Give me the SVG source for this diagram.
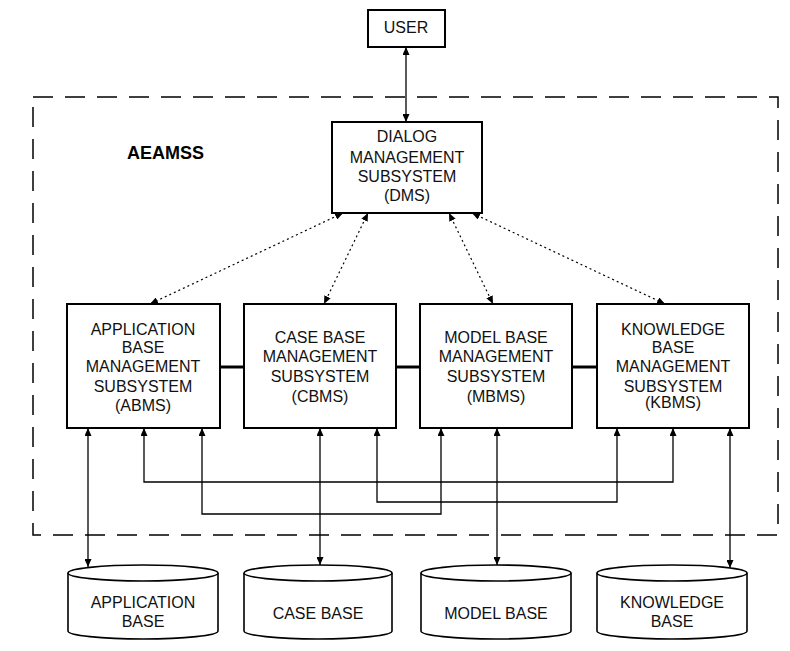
<svg xmlns="http://www.w3.org/2000/svg" width="790" height="651" viewBox="0 0 790 651">
<style>
.box{fill:#fff;stroke:#000;stroke-width:2}
.t{font-family:"Liberation Sans",Arial,sans-serif;font-size:16px;fill:#111;text-anchor:middle}
.title{font-family:"Liberation Sans",Arial,sans-serif;font-size:18px;font-weight:bold;fill:#000}
.ln{fill:none;stroke:#000;stroke-width:1.3}
.dot{fill:none;stroke:#000;stroke-width:1.2;stroke-dasharray:2,3}
.thick{fill:none;stroke:#000;stroke-width:3}
.bound{fill:none;stroke:#000;stroke-width:1.5;stroke-dasharray:20,12}
.cyl{fill:#fff;stroke:#000;stroke-width:1.6}
</style>
<defs>
<marker id="arr" viewBox="0 0 8 7" refX="8" refY="3.5" markerWidth="8" markerHeight="7" markerUnits="userSpaceOnUse" orient="auto-start-reverse">
<path d="M0,0 L8,3.5 L0,7 z" fill="#000"/>
</marker>
</defs>
<rect x="0" y="0" width="790" height="651" fill="#fff"/>
<rect class="bound" x="33" y="97" width="745" height="438"/>
<text class="title" x="127" y="159">AEAMSS</text>

<g id="connectors">
<line class="ln" x1="406" y1="47" x2="406" y2="122" marker-start="url(#arr)" marker-end="url(#arr)"/>
<line class="dot" x1="343" y1="213" x2="150" y2="304" marker-start="url(#arr)" marker-end="url(#arr)"/>
<line class="dot" x1="368" y1="213" x2="324" y2="304" marker-start="url(#arr)" marker-end="url(#arr)"/>
<line class="dot" x1="449" y1="213" x2="493" y2="304" marker-start="url(#arr)" marker-end="url(#arr)"/>
<line class="dot" x1="472" y1="213" x2="665" y2="304" marker-start="url(#arr)" marker-end="url(#arr)"/>
<line class="thick" x1="220" y1="367" x2="244" y2="367"/>
<line class="thick" x1="396" y1="367" x2="420" y2="367"/>
<line class="thick" x1="572" y1="367" x2="597" y2="367"/>
<line class="ln" x1="88" y1="428" x2="88" y2="567" marker-start="url(#arr)" marker-end="url(#arr)"/>
<line class="ln" x1="320" y1="428" x2="320" y2="565" marker-start="url(#arr)" marker-end="url(#arr)"/>
<line class="ln" x1="497" y1="428" x2="497" y2="565" marker-start="url(#arr)" marker-end="url(#arr)"/>
<line class="ln" x1="730" y1="428" x2="730" y2="568" marker-start="url(#arr)" marker-end="url(#arr)"/>
<path class="ln" d="M144,428 V482 H673 V428" marker-start="url(#arr)" marker-end="url(#arr)"/>
<path class="ln" d="M377,428 V502 H617 V428" marker-start="url(#arr)" marker-end="url(#arr)"/>
<path class="ln" d="M202,428 V514 H441 V428" marker-start="url(#arr)" marker-end="url(#arr)"/>
</g>

<g id="user">
<rect class="box" x="368" y="10" width="77" height="37"/>
<text class="t" x="406" y="33">USER</text>
</g>
<g id="dms">
<rect class="box" x="332" y="122" width="150" height="91"/>
<text class="t" x="407" y="142">DIALOG</text>
<text class="t" x="407" y="163">MANAGEMENT</text>
<text class="t" x="407" y="182">SUBSYSTEM</text>
<text class="t" x="407" y="201">(DMS)</text>
</g>
<g id="abms">
<rect class="box" x="67" y="304" width="153" height="124"/>
<text class="t" x="143" y="335">APPLICATION</text>
<text class="t" x="143" y="353">BASE</text>
<text class="t" x="143" y="372">MANAGEMENT</text>
<text class="t" x="143" y="392">SUBSYSTEM</text>
<text class="t" x="143" y="411">(ABMS)</text>
</g>
<g id="cbms">
<rect class="box" x="244" y="304" width="152" height="124"/>
<text class="t" x="320" y="343">CASE BASE</text>
<text class="t" x="320" y="362">MANAGEMENT</text>
<text class="t" x="320" y="382">SUBSYSTEM</text>
<text class="t" x="320" y="402">(CBMS)</text>
</g>
<g id="mbms">
<rect class="box" x="420" y="304" width="152" height="124"/>
<text class="t" x="496" y="343">MODEL BASE</text>
<text class="t" x="496" y="362">MANAGEMENT</text>
<text class="t" x="496" y="382">SUBSYSTEM</text>
<text class="t" x="496" y="402">(MBMS)</text>
</g>
<g id="kbms">
<rect class="box" x="597" y="304" width="152" height="124"/>
<text class="t" x="673" y="335">KNOWLEDGE</text>
<text class="t" x="673" y="353">BASE</text>
<text class="t" x="673" y="372">MANAGEMENT</text>
<text class="t" x="673" y="392">SUBSYSTEM</text>
<text class="t" x="673" y="408">(KBMS)</text>
</g>

<g id="appbase">
<path class="cyl" d="M68,573 V631 A75,8 0 0 0 218,631 V573"/>
<ellipse class="cyl" cx="143" cy="573" rx="75" ry="8"/>
<text class="t" x="143" y="608">APPLICATION</text>
<text class="t" x="143" y="627">BASE</text>
</g>
<g id="casebase">
<path class="cyl" d="M244,573 V631 A74,8 0 0 0 392,631 V573"/>
<ellipse class="cyl" cx="318" cy="573" rx="74" ry="8"/>
<text class="t" x="318" y="619">CASE BASE</text>
</g>
<g id="modelbase">
<path class="cyl" d="M421,573 V631 A75,8 0 0 0 571,631 V573"/>
<ellipse class="cyl" cx="496" cy="573" rx="75" ry="8"/>
<text class="t" x="496" y="619">MODEL BASE</text>
</g>
<g id="knowbase">
<path class="cyl" d="M597,573 V631 A75,8 0 0 0 747,631 V573"/>
<ellipse class="cyl" cx="672" cy="573" rx="75" ry="8"/>
<text class="t" x="672" y="608">KNOWLEDGE</text>
<text class="t" x="672" y="627">BASE</text>
</g>
</svg>
